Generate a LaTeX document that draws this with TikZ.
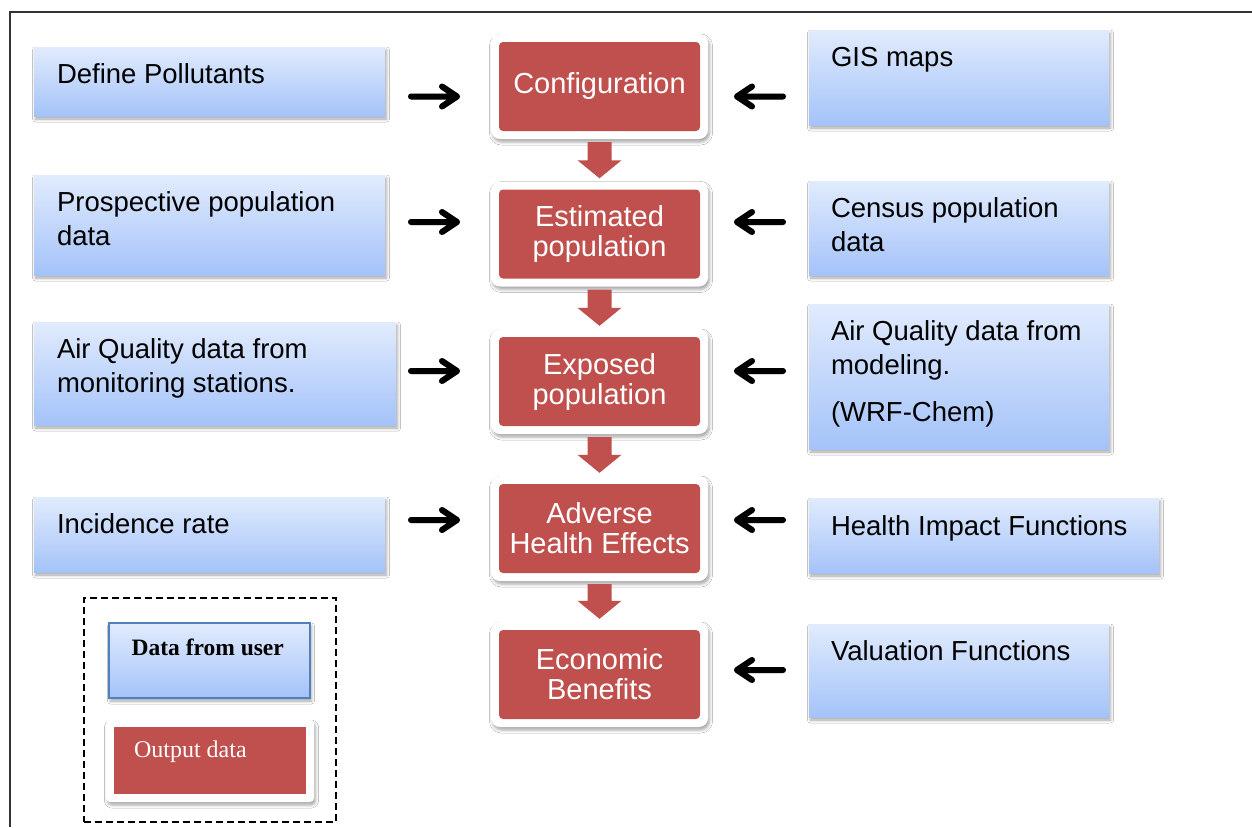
\documentclass[tikz,border=0pt]{standalone}
\usepackage{fontspec}
\setmainfont{Liberation Serif}
\setsansfont{Liberation Sans}
\usetikzlibrary{calc,shadows.blur}
\definecolor{boxred}{HTML}{C0504D}
\definecolor{bluetop}{HTML}{E1EBFD}
\definecolor{bluebot}{HTML}{A4C3F9}
\definecolor{legendblue}{HTML}{4F81BD}

\tikzset{
  softshadow/.style={blur shadow={shadow xshift=1.5pt, shadow yshift=-3pt,
      shadow blur radius=3pt, shadow opacity=35}},
  inbox/.style={rectangle, inner sep=0pt, top color=bluetop,
      bottom color=bluebot, draw=none, softshadow},
  % anchored on the baseline of the last line
  intext/.style={anchor=base west, inner sep=0pt, align=left, text=black,
      font=\sffamily\fontsize{27.5}{34}\selectfont},
  frame/.style={rectangle, rounded corners=9pt, fill=white, inner sep=0pt,
      minimum width=217pt, minimum height=105pt, softshadow},
  stage/.style={rectangle, rounded corners=4pt, fill=boxred, inner sep=0pt,
      minimum width=201pt, minimum height=89pt, text=white, align=center,
      font=\sffamily\fontsize{29}{30}\selectfont},
  feed/.style={line width=6pt, line cap=round, line join=round},
  feedshadow/.style={feed, draw=black!18},
}

% block arrow from the frame #1 down to the frame #2
\newcommand\flowarrow[2]{%
  \fill[boxred] ($(#1.south)+(-12,3)$) -- ($(#1.south)+(12,3)$)
    -- ($(#2.north)+(12,-21)$) -- ($(#2.north)+(22,-21)$)
    -- ($(#2.north)+(0,-3)$) -- ($(#2.north)+(-22,-21)$)
    -- ($(#2.north)+(-12,-21)$) -- cycle;}

% feed arrow from #1 to #2 with a chevron head; #3 = 1 (rightwards) or -1 (leftwards)
\newcommand\feedarrow[3]{%
  \begin{scope}[shift={(1.5,3)}]
    \draw[feedshadow] (#1) -- (#2) ($(#2)+(-15*#3,-10)$) -- (#2) -- ($(#2)+(-15*#3,10)$);
  \end{scope}
  \draw[feed] (#1) -- (#2) ($(#2)+(-15*#3,-10)$) -- (#2) -- ($(#2)+(-15*#3,10)$);}

\begin{document}
\begin{tikzpicture}[x=1pt,y=-1pt]
\useasboundingbox (0,0) rectangle (1252,827);
\fill[white] (0,0) rectangle (1252,827);

% page frame (top and left edges)
\draw[line width=1.3pt, black!80] (10,827) -- (10,12) -- (1252,12);

% ---- inputs on the left
\node[inbox, minimum width=351, minimum height=69] (dp) at (209.5,81.5) {};
\node[intext] (dpt) at ($(dp.north west)+(23,37)$) {Define Pollutants};
\node[inbox, minimum width=351, minimum height=100] (pp) at (209.5,225) {};
\node[intext] (ppt) at ($(pp.north west)+(23,71)$) {Prospective population\\data};
\node[inbox, minimum width=362, minimum height=103] (aqm) at (215,373.5) {};
\node[intext] (aqmt) at ($(aqm.north west)+(23,71)$) {Air Quality data from\\monitoring stations.};
\node[inbox, minimum width=351, minimum height=75] (inc) at (209.5,534.5) {};
\node[intext] (inct) at ($(inc.north west)+(23,37)$) {Incidence rate};

% ---- inputs on the right
\node[inbox, minimum width=300, minimum height=95] (gis) at (959,77.5) {};
\node[intext] (gist) at ($(gis.north west)+(22,37)$) {GIS maps};
\node[inbox, minimum width=300, minimum height=94] (cen) at (959,228) {};
\node[intext] (cent) at ($(cen.north west)+(22,71)$) {Census population\\data};
\node[inbox, minimum width=300, minimum height=145] (aqmod) at (959,376.5) {};
\node[intext] (aqmodt) at ($(aqmod.north west)+(22,118)$) {Air Quality data from\\modeling.\\[13pt](WRF-Chem)};
\node[inbox, minimum width=350, minimum height=75] (hif) at (984,535.5) {};
\node[intext] (hift) at ($(hif.north west)+(22,38)$) {Health Impact Functions};
\node[inbox, minimum width=300, minimum height=93] (val) at (959,670.5) {};
\node[intext] (valt) at ($(val.north west)+(22,37)$) {Valuation Functions};

% ---- computed stages
\node[frame] (cfgf) at (599.5,86.5) {};
\node[stage] (cfg) at (cfgf) {Configuration};
\node[frame] (estf) at (599.5,234) {};
\node[stage] (est) at (estf) {Estimated\\population};
\node[frame] (expf) at (599.5,381.5) {};
\node[stage] (exp) at (expf) {Exposed\\population};
\node[frame] (advf) at (599.5,528.5) {};
\node[stage] (adv) at (advf) {Adverse\\Health Effects};
\node[frame] (ecof) at (599.5,674.5) {};
\node[stage] (eco) at (ecof) {Economic\\Benefits};

\flowarrow{cfgf}{estf}
\flowarrow{estf}{expf}
\flowarrow{expf}{advf}
\flowarrow{advf}{ecof}

% ---- feed arrows
\coordinate (a1s) at (411,96.5); \coordinate (a1e) at (457,96.5);
\coordinate (a2s) at (411,222);  \coordinate (a2e) at (457,222);
\coordinate (a3s) at (411,371);  \coordinate (a3e) at (457,371);
\coordinate (a4s) at (411,520);  \coordinate (a4e) at (457,520);
\coordinate (b1s) at (783,96.5); \coordinate (b1e) at (737,96.5);
\coordinate (b2s) at (783,222);  \coordinate (b2e) at (737,222);
\coordinate (b3s) at (783,371);  \coordinate (b3e) at (737,371);
\coordinate (b4s) at (783,520);  \coordinate (b4e) at (737,520);
\coordinate (b5s) at (783,670);  \coordinate (b5e) at (737,670);
\foreach \s/\e in {a1s/a1e,a2s/a2e,a3s/a3e,a4s/a4e}{\feedarrow{\s}{\e}{1}}
\foreach \s/\e in {b1s/b1e,b2s/b2e,b3s/b3e,b4s/b4e,b5s/b5e}{\feedarrow{\s}{\e}{-1}}

% ---- legend
\node[draw, line width=2.6pt, dash pattern=on 7pt off 4pt, inner sep=0pt,
      minimum width=252, minimum height=224] (legend) at (210,710) {};
\node[inbox, draw=legendblue, line width=1.2pt, minimum width=201,
      minimum height=75] (user) at (209.5,660.5) {};
\node[anchor=base west, inner sep=0pt,
      font=\bfseries\fontsize{23.5}{28}\selectfont] (usert)
      at ($(user.north west)+(23,33)$) {Data from user};
\node[frame, rounded corners=4pt, minimum width=208, minimum height=82]
      (outf) at (210,761) {};
\node[rectangle, fill=boxred, inner sep=0pt, minimum width=192,
      minimum height=67] (out) at (210,760.5) {};
\node[anchor=base west, inner sep=0pt, text=white,
      font=\fontsize{24}{28}\selectfont] (outt)
      at ($(out.north west)+(20,31)$) {Output data};
\end{tikzpicture}
\end{document}
